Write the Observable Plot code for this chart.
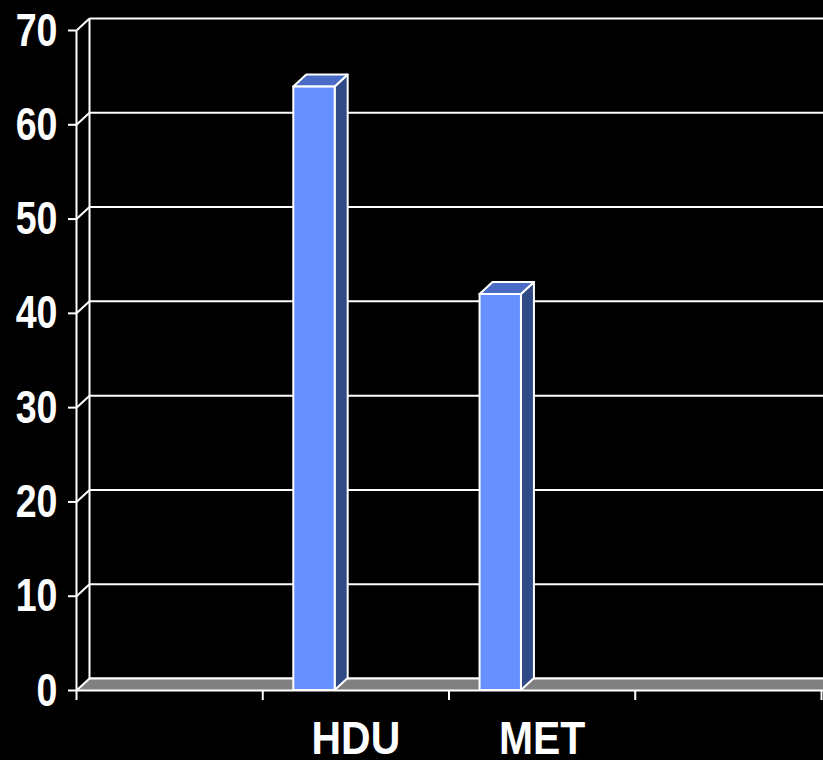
<!DOCTYPE html>
<html><head><meta charset="utf-8">
<script src="https://cdn.jsdelivr.net/npm/d3@7"></script>
<script src="https://cdn.jsdelivr.net/npm/@observablehq/plot@0.6"></script>
<style>html,body{margin:0;padding:0;background:#000;overflow:hidden}svg{overflow:hidden}</style>
</head><body><div id="chart"></div>
<script>
const categories = ["", "HDU", "MET", ""];
const values = [0, 64, 42, 0];
const yTicks = [0, 10, 20, 30, 40, 50, 60, 70];

const W = 823, H = 760, mL = 76, mR = 2, mT = 30, mB = 70;
const yMax = 70;
const n = categories.length;
const pxX = (W - mL - mR) / n;
const pxY = (H - mT - mB) / yMax;
const dX = 13 / pxX, dY = 12 / pxY;          // 3-D depth in data units
const gapWidth = 1.5, slots = 3;               // Excel-like cluster layout
const barW = 1 / (slots + gapWidth);
const barStart = (gapWidth / 2) * barW;

const rows = categories.map((c, i) => ({i, c, v: values[i]})).filter(d => d.v > 0);
const faces = rows.flatMap(d => [0, 1].map(t => ({...d, t})));

const frontColor = "#6690ff", topColor = "#4a6cc6", sideColor = "#2f4a85";
const W2 = {stroke: "white", strokeWidth: 2};

const chart = Plot.plot({
  width: W, height: H,
  marginLeft: mL, marginRight: mR, marginTop: mT, marginBottom: mB,
  style: {background: "black", color: "white", fontFamily: "'Liberation Sans', Arial, sans-serif", fontWeight: "bold", fontSize: "47px"},
  x: {domain: [0, n], axis: null},
  y: {domain: [0, yMax], axis: null},
  marks: [
    // back wall gridlines
    Plot.link(yTicks, {x1: () => dX, x2: () => n + 2 * dX, y1: d => d + dY, y2: d => d + dY, ...W2}),
    // floor
    Plot.areaX([0, 1], {y: t => t * dY, x1: t => t * dX, x2: t => n + t * dX + dX, fill: "#808080", curve: "linear"}),
    Plot.link([0], {x1: () => dX, x2: () => n + 2 * dX, y1: d => d + dY, y2: d => d + dY, ...W2}),
    Plot.link([0], {x1: () => 0, x2: () => n + dX, y1: d => d, y2: d => d, ...W2}),
    // left wall
    Plot.link([dX], {x1: d => d, x2: d => d, y1: () => dY, y2: () => yMax + dY, ...W2}),
    Plot.link(yTicks, {x1: () => 0, y1: d => d, x2: () => dX, y2: d => d + dY, ...W2}),
    // bars: side, top, front
    Plot.areaY(faces, {x: d => d.i + barStart + barW + d.t * dX, y1: d => d.t * dY, y2: d => d.v + d.t * dY, z: "i", fill: sideColor, ...W2, curve: "linear"}),
    Plot.areaX(faces, {y: d => d.v + d.t * dY, x1: d => d.i + barStart + d.t * dX, x2: d => d.i + barStart + barW + d.t * dX, z: "i", fill: topColor, ...W2, curve: "linear"}),
    Plot.rect(rows, {x1: d => d.i + barStart, x2: d => d.i + barStart + barW, y1: () => 0, y2: d => d.v, fill: frontColor, ...W2}),
    // front axis
    Plot.link([0], {x1: d => d, x2: d => d, y1: () => 0, y2: () => yMax, ...W2}),
    Plot.axisY({ticks: yTicks, tickSize: 8, tickPadding: 11, strokeWidth: 2, strokeOpacity: 1, tickFormat: d => String(d), label: null}),
    Plot.axisX({ticks: d3.range(0, n + 1), tickSize: 10, strokeWidth: 2, strokeOpacity: 1, tickFormat: () => "", label: null}),
    Plot.axisX({ticks: categories.map((c, i) => i + 0.5), tickSize: 0, tickPadding: 30, tickFormat: v => categories[Math.floor(v)], label: null})
  ]
});
document.getElementById("chart").appendChild(chart);
// condensed look of the original's narrow bold type
function condense(sel, k) {
  d3.select(chart).selectAll(sel).each(function() {
    const L = this.getComputedTextLength();
    if (L > 0) {
      this.setAttribute("textLength", (L * k).toFixed(1));
      this.setAttribute("lengthAdjust", "spacingAndGlyphs");
    }
  });
}
condense("g[aria-label='y-axis tick label'] text", 0.8);
condense("g[aria-label='x-axis tick label'] text", 0.87);
</script>
</body></html>
